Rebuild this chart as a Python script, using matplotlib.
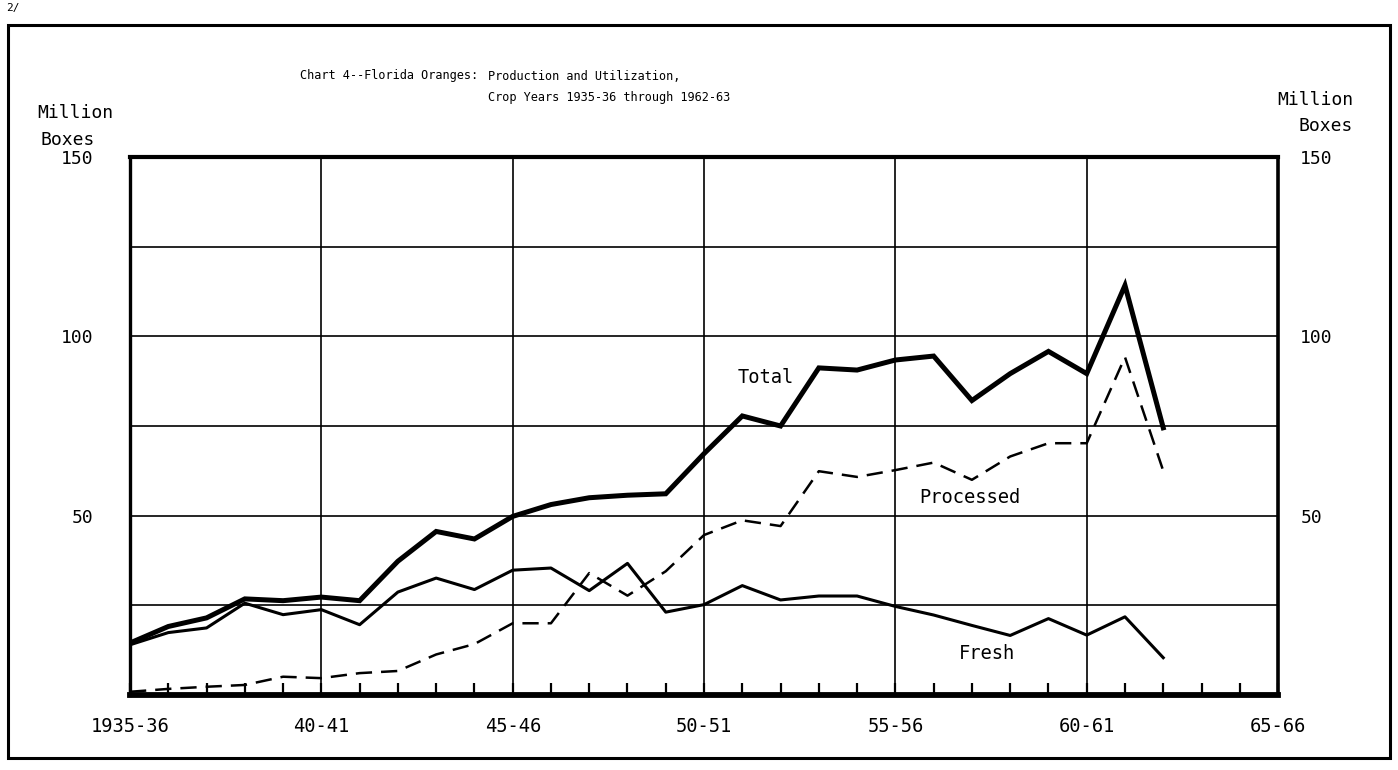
import matplotlib.pyplot as plt
from matplotlib.patches import Rectangle

# crop years 1935-36 .. 1962-63, million boxes
years = list(range(28))
total = [14.5, 19.1, 21.5, 26.8, 26.3, 27.3, 26.3, 37.3, 45.6, 43.5,
         49.8, 53.1, 55.0, 55.7, 56.1, 67.3, 77.8, 75.0, 91.2, 90.6,
         93.4, 94.5, 82.1, 89.6, 95.8, 89.6, 114.2, 74.5]
fresh = [14.0, 17.4, 18.7, 25.6, 22.4, 23.8, 19.6, 28.7, 32.6, 29.4,
         34.8, 35.4, 29.1, 36.7, 23.1, 25.2, 30.5, 26.5, 27.6, 27.6,
         24.7, 22.3, 19.4, 16.6, 21.3, 16.7, 21.8, 10.4]
processed = [0.9, 1.7, 2.3, 2.8, 5.1, 4.7, 6.1, 6.7, 11.3, 14.2,
             20.0, 20.0, 34.0, 27.7, 34.5, 44.6, 48.7, 47.1, 62.4, 60.8,
             62.7, 64.8, 60.0, 66.5, 70.2, 70.2, 94.2, 62.5]

x_major = [0, 5, 10, 15, 20, 25, 30]
x_labels = ['1935-36', '40-41', '45-46', '50-51', '55-56', '60-61', '65-66']
y_labels = [50, 100, 150]

FONT = 'DejaVu Sans Mono'
plt.rcParams['font.family'] = FONT

fig = plt.figure(figsize=(13.98, 7.70), dpi=100)
ax = fig.add_axes([0.0930, 0.0974, 0.8212, 0.6987])

ax.plot(years, total, color='black', lw=3.6, solid_joinstyle='miter', zorder=4)
ax.plot(years, fresh, color='black', lw=2.2, zorder=4)
ax.plot(years, processed, color='black', lw=1.8, dashes=(6.5, 3.6), zorder=4)

ax.set_xlim(0, 30)
ax.set_ylim(0, 150)

# grid: every 5 years, every 25 million boxes
ax.set_xticks(x_major)
ax.set_xticklabels(x_labels, fontsize=13.5)
ax.set_xticks(range(31), minor=True)
ax.set_yticks(y_labels)
ax.set_yticks([25, 75, 125], minor=True)
ax.set_yticklabels([str(v) for v in y_labels], fontsize=13)
ax.grid(True, which='major', color='black', lw=1.2)
ax.grid(True, which='minor', axis='y', color='black', lw=1.2)

ax.tick_params(axis='x', which='both', direction='in', length=9, width=1.6,
               color='black', pad=16, top=False)
ax.tick_params(axis='y', which='both', length=0, pad=26)

ax2 = ax.twinx()
ax2.set_ylim(0, 150)
ax2.set_yticks(y_labels)
ax2.set_yticklabels([str(v) for v in y_labels], fontsize=13)
ax2.tick_params(axis='y', length=0, pad=16)
for s in ax2.spines.values():
    s.set_visible(False)

ax.spines['bottom'].set_linewidth(4.2)
ax.spines['left'].set_linewidth(2.4)
ax.spines['top'].set_linewidth(3.0)
ax.spines['right'].set_linewidth(2.6)
for s in ax.spines.values():
    s.set_zorder(5)

# series labels
ax.text(16.6, 88.5, 'Total', fontsize=13.5, ha='center', va='center')
ax.text(21.95, 55.0, 'Processed', fontsize=13.5, ha='center', va='center')
ax.text(22.4, 11.5, 'Fresh', fontsize=13.5, ha='center', va='center')

# title
fig.text(300 / 1398, 1 - 76 / 770, 'Chart 4--Florida Oranges:', fontsize=8.6,
         ha='left', va='center')
fig.text(488 / 1398, 1 - 76 / 770, 'Production and Utilization,', fontsize=8.6,
         ha='left', va='center')
fig.text(488 / 1398, 1 - 98 / 770, 'Crop Years 1935-36 through 1962-63', fontsize=8.6,
         ha='left', va='center')

# axis unit labels
fig.text(37 / 1398, 1 - 113 / 770, 'Million', fontsize=13, ha='left', va='center')
fig.text(40 / 1398, 1 - 140 / 770, 'Boxes', fontsize=13, ha='left', va='center')
fig.text(1353 / 1398, 1 - 100 / 770, 'Million', fontsize=13, ha='right', va='center')
fig.text(1353 / 1398, 1 - 126 / 770, 'Boxes', fontsize=13, ha='right', va='center')

fig.text(6 / 1398, 1 - 8 / 770, '2/', fontsize=8, ha='left', va='center')

# outer frame
fig.patches.append(Rectangle((8 / 1398, 1 - 758 / 770), (1390 - 8) / 1398,
                             (758 - 25) / 770, transform=fig.transFigure,
                             fill=False, lw=2.2, ec='black'))

fig.savefig('out.png', dpi=100)
